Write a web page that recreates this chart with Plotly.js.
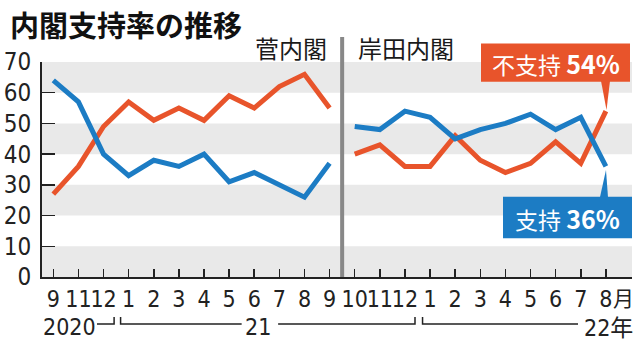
<!DOCTYPE html>
<html>
<head>
<meta charset="utf-8">
<script src="https://cdn.plot.ly/plotly-3.0.1.min.js"></script>
<style>
html,body{margin:0;padding:0;background:#fff;}
#chart{width:640px;height:356px;}
</style>
</head>
<body>
<div id="chart"></div>
<script>
// Month tick labels (2020-9 .. 2022-8, no survey in 2020-10)
const monthLabels = ['9','11','12','1','2','3','4','5','6','7','8','9',
                     '10','11','12','1','2','3','4','5','6','7','8'];
// 支持 (support) %
const support    = [64,57,40,33,38,36,40,31,34,30,26,37,
                    49,48,54,52,45,48,50,53,48,52,36];
// 不支持 (non-support) %
const nonsupport = [27,36,49,57,51,55,51,59,55,62,66,55,
                    40,43,36,36,46,38,34,37,44,37,54];
// Suga cabinet covers the first 12 surveys, Kishida the rest
const sugaCount = 12;
const yearLabels = ['2020','21','22年'];
const cabinetLabels = ['菅内閣','岸田内閣'];
const title = '内閣支持率の推移';

const ORANGE = '#e8542b';
const BLUE = '#1c7cc4';
const NARROW = '"Liberation Sans Narrow","DejaVu Sans Condensed","Noto Sans CJK JP",sans-serif';
const CJK = '"Noto Sans CJK JP","Noto Sans",sans-serif';

const idx = monthLabels.map((_, i) => i);
const xr = [-0.45, 23.04];
const L = 42, T = 62, W = 590, H = 215;
const X = p => (p - L) / W;              // pixel x -> paper
const Y = p => (T + H - p) / H;          // pixel y -> paper
const C = c => (c - xr[0]) / (xr[1] - xr[0]); // category -> paper

function seg(arr, a, b){ return {x: idx.slice(a,b), y: arr.slice(a,b)}; }
function tr(arr, a, b, color){
  const s = seg(arr, a, b);
  return {x: s.x, y: s.y, type:'scatter', mode:'lines', hoverinfo:'skip',
          line:{color: color, width:5, shape:'linear'}, showlegend:false};
}
const n = monthLabels.length;
const data = [
  tr(nonsupport, 0, sugaCount, ORANGE),
  tr(nonsupport, sugaCount, n, ORANGE),
  tr(support, 0, sugaCount, BLUE),
  tr(support, sugaCount, n, BLUE)
];

const shapes = [];
[0,20,40,60].forEach(v => shapes.push({type:'rect', xref:'paper', yref:'y', x0:0, x1:1,
  y0:v, y1:v+10, fillcolor:'#e9e9e9', line:{width:0}, layer:'below'}));
// cabinet separator
const sepX = C(sugaCount - 0.5);
shapes.push({type:'line', xref:'paper', yref:'paper', x0:sepX, x1:sepX, y0:0, y1:Y(37),
  line:{color:'#888', width:4}});
// year brackets
const yb = Y(324), yt = Y(317);
function path(pts){ return 'M' + pts.map(p => p[0].toFixed(4)+','+p[1].toFixed(4)).join(' L'); }
const bl = {color:'#222', width:1.5};
shapes.push({type:'path', xref:'paper', yref:'paper', path: path([[C(1.74),yb],[C(2.42),yb],[C(2.42),yt]]), line:bl});
shapes.push({type:'path', xref:'paper', yref:'paper', path: path([[C(2.68),yt],[C(2.68),yb],[C(7.5),yb]]), line:bl});
shapes.push({type:'path', xref:'paper', yref:'paper', path: path([[C(8.95),yb],[C(14.4),yb],[C(14.4),yt]]), line:bl});
shapes.push({type:'path', xref:'paper', yref:'paper', path: path([[C(14.7),yt],[C(14.7),yb],[C(20.89),yb]]), line:bl});
// callout boxes
shapes.push({type:'rect', xref:'paper', yref:'paper', x0:X(481), x1:X(630), y0:Y(81.7), y1:Y(43.5),
  fillcolor:ORANGE, line:{width:0}});
shapes.push({type:'path', xref:'paper', yref:'paper',
  path: path([[X(601),Y(81)],[X(610),Y(81)],[X(606.5),Y(110)]]) + ' Z', fillcolor:ORANGE, line:{width:0}});
shapes.push({type:'rect', xref:'paper', yref:'paper', x0:X(503), x1:X(632), y0:Y(238.3), y1:Y(196.7),
  fillcolor:BLUE, line:{width:0}});
shapes.push({type:'path', xref:'paper', yref:'paper',
  path: path([[X(600),Y(197)],[X(608),Y(197)],[X(606),Y(170)]]) + ' Z', fillcolor:BLUE, line:{width:0}});

const last = n - 1;
const annotations = [
  {text:'<b>'+title+'</b>', xref:'paper', yref:'paper', x:X(8), y:Y(24), xanchor:'left', yanchor:'middle',
   showarrow:false, font:{family:CJK, size:29, color:'#111'}},
  {text:cabinetLabels[0], xref:'paper', yref:'paper', x:X(329), y:Y(47), xanchor:'right', yanchor:'middle',
   showarrow:false, font:{family:CJK, size:24, color:'#1a1a1a'}},
  {text:cabinetLabels[1], xref:'paper', yref:'paper', x:X(356), y:Y(47), xanchor:'left', yanchor:'middle',
   showarrow:false, font:{family:CJK, size:24, color:'#1a1a1a'}},
  {text:'不支持 <b><span style="font-size:25px">' + nonsupport[last] + '%</span></b>', xref:'paper', yref:'paper',
   x:X(555.5), y:Y(62.5), xanchor:'center', yanchor:'middle', showarrow:false,
   font:{family:CJK, size:23, color:'#fff'}},
  {text:'支持 <b><span style="font-size:25px">' + support[last] + '%</span></b>', xref:'paper', yref:'paper',
   x:X(567.5), y:Y(218), xanchor:'center', yanchor:'middle', showarrow:false,
   font:{family:CJK, size:23, color:'#fff'}},
  {text:'月', xref:'x', yref:'paper', x:last, xshift:18, y:Y(297), xanchor:'center', yanchor:'middle',
   showarrow:false, font:{family:CJK, size:21, color:'#222'}},
  {text:yearLabels[0], xref:'x', yref:'paper', x:0.66, y:Y(327), xanchor:'center', yanchor:'middle',
   showarrow:false, font:{family:NARROW, size:23, color:'#222'}},
  {text:yearLabels[1], xref:'x', yref:'paper', x:8.15, y:Y(327), xanchor:'center', yanchor:'middle',
   showarrow:false, font:{family:NARROW, size:23, color:'#222'}},
  {text:yearLabels[2], xref:'x', yref:'paper', x:22.1, y:Y(328), xanchor:'center', yanchor:'middle',
   showarrow:false, font:{family:NARROW, size:23, color:'#222'}}
];

const layout = {
  width:640, height:356,
  margin:{l:L, r:640-L-W, t:T, b:356-T-H},
  paper_bgcolor:'#fff', plot_bgcolor:'#fff',
  showlegend:false,
  xaxis:{range:xr, tickmode:'array', tickvals:idx, ticktext:monthLabels, tickangle:0,
    ticks:'inside', ticklen:8, tickwidth:1.5, tickcolor:'#222',
    showline:true, linecolor:'#222', linewidth:2, showgrid:false, zeroline:false,
    tickfont:{family:NARROW, size:23, color:'#222'}, fixedrange:true},
  yaxis:{range:[0,70], tickmode:'array', tickvals:[0,10,20,30,40,50,60,70],
    ticks:'inside', ticklen:13, tickwidth:1.5, tickcolor:'#222',
    showline:true, linecolor:'#222', linewidth:2, showgrid:false, zeroline:false,
    tickfont:{family:NARROW, size:24, color:'#222'}, ticklabelstandoff:4, fixedrange:true},
  shapes:shapes,
  annotations:annotations
};
Plotly.newPlot('chart', data, layout, {displayModeBar:false, staticPlot:true});
</script>
</body>
</html>
